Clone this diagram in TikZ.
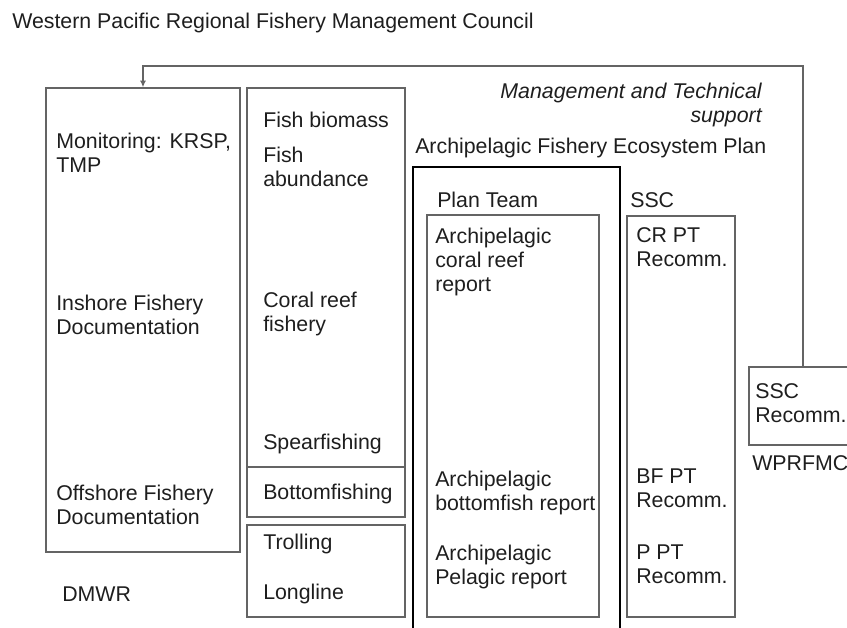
\documentclass[tikz,border=0pt]{standalone}
\usepackage{fontspec}
\setmainfont{Liberation Sans}
\usetikzlibrary{arrows.meta}
\definecolor{linegray}{RGB}{100,100,100}
\definecolor{textgray}{RGB}{30,30,30}
\newcommand{\px}{0.75pt}

\begin{document}
\begin{tikzpicture}[x=0.75pt, y=-0.75pt,
    box/.style={draw=linegray, line width=1pt, inner sep=0pt},
    planbox/.style={draw=black, line width=2.2pt, inner sep=0pt},
    lbl/.style={anchor=north west, inner sep=0pt, align=left, text=textgray, font=\fontsize{16}{18}\selectfont},
    conn/.style={draw=linegray, line width=1pt, -{Latex[length=5pt,width=4.5pt]}}]
  \clip (0,0) rectangle (847,628);

  \node[lbl] (title) at (12,13) {Western Pacific Regional Fishery Management Council};

  \node[box, minimum width=194*\px, minimum height=464*\px] (dmwr) at (143,320) {};
  \node[box, minimum width=158*\px, minimum height=379*\px] (coralfish) at (326,277.5) {};
  \node[box, minimum width=158*\px, minimum height=50*\px] (bottomfish) at (326,492) {};
  \node[box, minimum width=158*\px, minimum height=92*\px] (pelagic) at (326,571) {};
  \node[planbox, minimum width=207*\px, minimum height=483*\px] (plan) at (516.5,408.5) {};
  \node[box, minimum width=172*\px, minimum height=402*\px] (planteam) at (513,416) {};
  \node[box, minimum width=108*\px, minimum height=401*\px] (ssc) at (681,416.5) {};
  \node[box, minimum width=108*\px, minimum height=78*\px] (sscrec) at (803,406) {};

  \coordinate (turn) at (143,66);
  \draw[conn] (sscrec.north) |- (turn) -- (dmwr.north);

  \node[lbl, anchor=north east, align=right, font=\fontsize{16}{18}\selectfont\itshape] (support) at (762,83) {Management and Technical\\support};
  \node[lbl] (afep) at (415,138) {Archipelagic Fishery Ecosystem Plan};
  \node[lbl] (ptlabel) at (437,192) {Plan Team};
  \node[lbl] (ssclabel) at (630,192) {SSC};

  \node[lbl] (monitor) at (56,133) {Monitoring: KRSP,\\TMP};
  \node[lbl] (inshore) at (56,295) {Inshore Fishery\\Documentation};
  \node[lbl] (offshore) at (56,485) {Offshore Fishery\\Documentation};
  \node[lbl] (dmwrlabel) at (62,587) {DMWR};

  \node[lbl] (biomass) at (263,112) {Fish biomass};
  \node[lbl] (abundance) at (263,147) {Fish\\abundance};
  \node[lbl] (coralreef) at (263,292) {Coral reef\\fishery};
  \node[lbl] (spear) at (263,434) {Spearfishing};
  \node[lbl] (bottom) at (263,484) {Bottomfishing};
  \node[lbl] (troll) at (263,534) {Trolling};
  \node[lbl] (longline) at (263,584) {Longline};

  \node[lbl] (crreport) at (435,228) {Archipelagic\\coral reef\\report};
  \node[lbl] (bfreport) at (435,471) {Archipelagic\\bottomfish report};
  \node[lbl] (preport) at (435,545) {Archipelagic\\Pelagic report};

  \node[lbl] (crrec) at (636,227) {CR PT\\Recomm.};
  \node[lbl] (bfrec) at (636,469) {BF PT\\Recomm.};
  \node[lbl] (prec) at (636,545) {P PT\\Recomm.};

  \node[lbl] (ssctext) at (755,383) {SSC\\Recomm.};
  \node[lbl] (wprfmc) at (752,455) {WPRFMC};
\end{tikzpicture}
\end{document}
